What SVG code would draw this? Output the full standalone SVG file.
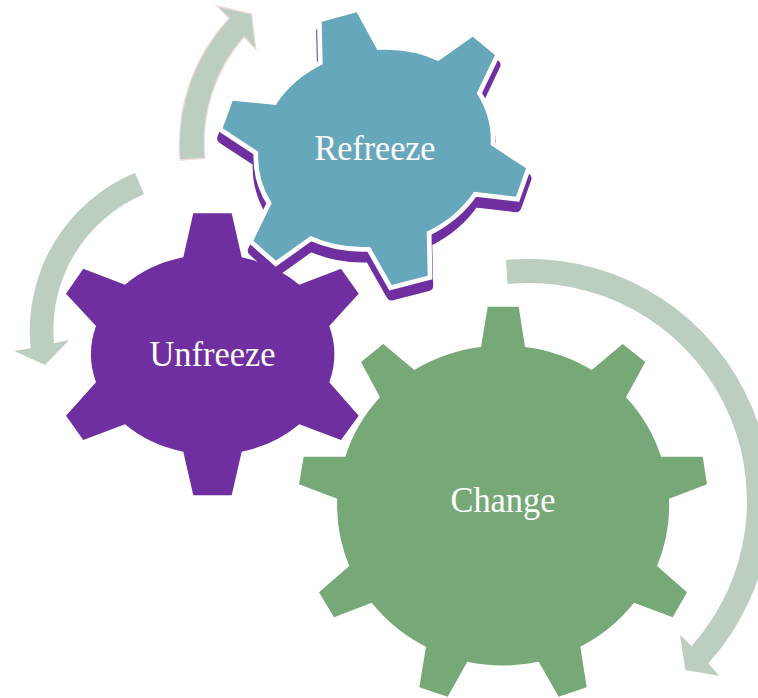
<svg xmlns="http://www.w3.org/2000/svg" width="758" height="698" viewBox="0 0 758 698">
<style>
.lbl{font-family:"Liberation Serif","Times New Roman",serif;font-size:36px;fill:#fff;text-anchor:middle}
.arrow{fill:#bbcebf}
</style>
<defs>
<path id="teal" d="M321.7 21.7L356.7 12.3L377.3 50A116 100 -10 0 1 438.3 61L472.7 36.7L495 55L476.7 93.3A116 100 -10 0 1 490.7 145L526 168.3L516 196.7L474 191.7A116 100 -10 0 1 426.7 231.7L427.7 275.7L391.7 285L370 246.7A116 100 -10 0 1 310.7 236L276 260.7L253.3 240.7L271.7 203.3A116 100 -10 0 1 258.3 151.7L222.7 128.3L232.7 100.7L275.7 105A116 100 -10 0 1 322.7 64.3Z"/>
</defs>
<rect width="758" height="698" fill="#fff"/>
<g id="connectors">
<path class="arrow" stroke="#f0dcdc" stroke-width="1.3" d="M180 160A185 185 0 0 1 229.3 18.3L216.7 6L251.7 14L255.7 49.3L244 36.7A161 161 0 0 0 205 158.3Z"/>
<path class="arrow" d="M135 172.7L144 194.3A147 147 0 0 0 54 343.3L69 340L45 365L14.3 351L30.7 348.3A171 171 0 0 1 135 172.7Z"/>
<path class="arrow" d="M506 260A242 242 0 0 1 708.3 663.3L719 675.7L685.3 670L680 635L691.7 646A218 218 0 0 0 507.7 284Z"/>
</g>
<g id="refreeze">
<use href="#teal" transform="translate(0 10)" fill="#702fa0" stroke="#702fa0" stroke-width="11" stroke-linejoin="round"/>
<use href="#teal" fill="#fff" stroke="#fff" stroke-width="9.5" stroke-linejoin="miter"/>
<use href="#teal" fill="#67a7bb"/>
<text class="lbl" x="375" y="159.5" textLength="121" lengthAdjust="spacingAndGlyphs">Refreeze</text>
</g>
<g id="unfreeze">
<path fill="#702fa0" d="M193.3 213.3H231.7L241.7 257.3A121 99 0 0 1 299.3 284.7L341 268.7L358.7 293.7L329.3 326A121 99 0 0 1 329.3 382.3L358.7 415.7L341 440L299.3 424.3A121 99 0 0 1 241.7 451.7L231.7 495.3H193.3L183.3 451.7A121 99 0 0 1 125 424.3L83.3 440L66 415.7L96 382.3A121 99 0 0 1 96 326L66 293.7L83.3 268.7L125 284.7A121 99 0 0 1 183.3 257.3Z"/>
<text class="lbl" x="212.5" y="365.5" textLength="126" lengthAdjust="spacingAndGlyphs">Unfreeze</text>
</g>
<g id="change">
<path fill="#76a878" d="M487.7 306.7H518.7L525 347A166 160 0 0 1 591.7 370L622.7 344L645.3 362L626 397.3A166 160 0 0 1 661 456.7H702.7L707 484.3L669 498.7A166 160 0 0 1 657 566L687 592.3L672.7 617.3L634 602.7A166 160 0 0 1 580.3 646.7L586.7 687.3L558.7 696.7L538.7 661.7A166 160 0 0 1 467.3 661.7L447.7 696.7L419.3 687.3L426 646.7A166 160 0 0 1 371.7 602.7L334 617.3L319 592.3L349.3 566A166 160 0 0 1 337.3 498.7L299 484.3L303.7 456.7H345.3A166 160 0 0 1 380 397.3L361 362L383.3 344L414.3 370A166 160 0 0 1 481 347Z"/>
<text class="lbl" x="503" y="512" textLength="105" lengthAdjust="spacingAndGlyphs">Change</text>
</g>
</svg>
